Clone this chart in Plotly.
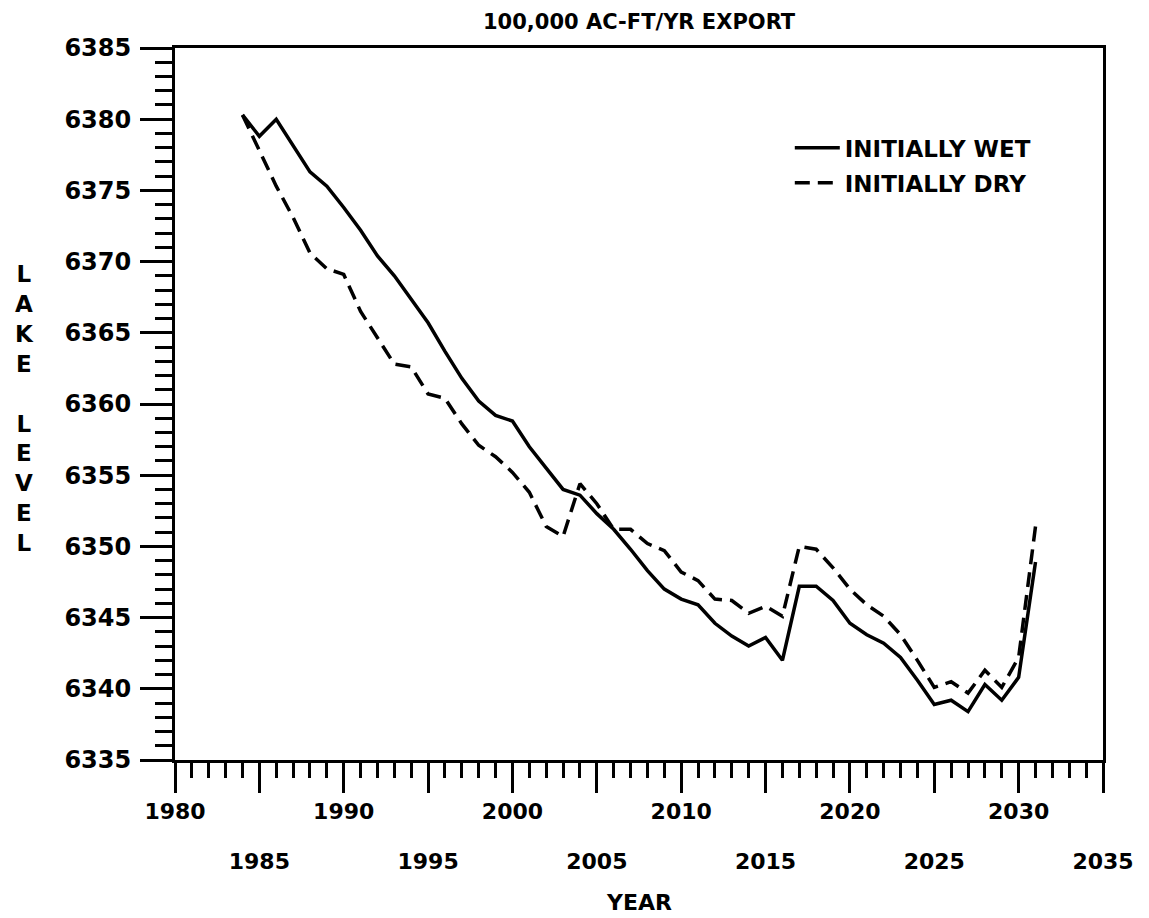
import plotly.graph_objects as go

# ---- data ----
years = list(range(1984, 2032))
wet = [6380.3, 6378.8, 6380.0, 6378.1, 6376.3, 6375.3, 6373.8, 6372.2, 6370.4, 6369.0,
       6367.4, 6365.7, 6363.7, 6361.8, 6360.2, 6359.2, 6358.8, 6357.0, 6355.5, 6354.0,
       6353.6, 6352.3, 6351.2, 6349.8, 6348.3, 6347.0, 6346.3, 6345.9, 6344.6, 6343.7,
       6343.0, 6343.6, 6342.0, 6347.2, 6347.2, 6346.2, 6344.6, 6343.8, 6343.2, 6342.2,
       6340.6, 6338.9, 6339.2, 6338.4, 6340.3, 6339.2, 6340.8, 6348.9]
dry = [6380.3, 6377.8, 6375.3, 6373.1, 6370.6, 6369.5, 6369.1, 6366.5, 6364.6, 6362.8,
       6362.6, 6360.7, 6360.4, 6358.6, 6357.1, 6356.3, 6355.2, 6353.8, 6351.4, 6350.7,
       6354.4, 6353.0, 6351.2, 6351.2, 6350.2, 6349.7, 6348.2, 6347.6, 6346.3, 6346.2,
       6345.3, 6345.8, 6345.1, 6350.0, 6349.8, 6348.5, 6347.0, 6345.9, 6345.1, 6343.8,
       6342.0, 6340.1, 6340.5, 6339.7, 6341.3, 6340.1, 6342.2, 6351.4]
series_names = ["INITIALLY WET", "INITIALLY DRY"]

x_major = [1980, 1985, 1990, 1995, 2000, 2005, 2010, 2015, 2020, 2025, 2030, 2035]
x_row1 = ["1980", "", "1990", "", "2000", "", "2010", "", "2020", "", "2030", ""]
x_row2_vals = [1985, 1995, 2005, 2015, 2025, 2035]
x_row2_text = ["1985", "1995", "2005", "2015", "2025", "2035"]
y_ticks = [6335, 6340, 6345, 6350, 6355, 6360, 6365, 6370, 6375, 6380, 6385]

title_text = "100,000 AC-FT/YR EXPORT"
x_title = "YEAR"
y_title = "LAKE LEVEL"

FONT = "DejaVu Sans"
INK = "#000000"
PLOT_H = 712

fig = go.Figure()
fig.add_trace(go.Scatter(x=years, y=wet, mode="lines", name=series_names[0],
                         line=dict(color=INK, width=3.5), legendgroup="a"))
fig.add_trace(go.Scatter(x=years, y=dry, mode="lines", name=series_names[1],
                         line=dict(color=INK, width=3.5, dash="15px,8px"), legendgroup="b"))
# invisible carrier so the second (staggered-label) x axis is drawn
fig.add_trace(go.Scatter(x=x_row2_vals, y=[None] * len(x_row2_vals), xaxis="x2",
                         mode="lines", showlegend=False, hoverinfo="skip"))

axis_common = dict(showgrid=False, zeroline=False, linecolor=INK, linewidth=3,
                   tickcolor=INK, tickwidth=3, mirror=True, showline=True)

fig.update_layout(
    width=1141, height=910,
    margin=dict(l=167, r=46, t=40, b=158),
    paper_bgcolor="white", plot_bgcolor="white",
    font=dict(family=FONT, color=INK, weight="bold"),
    showlegend=True,
    legend=dict(x=0.6625, y=0.89, xanchor="left", yanchor="top",
                bgcolor="rgba(0,0,0,0)", borderwidth=0,
                font=dict(size=23, family=FONT, color=INK, weight="bold"),
                traceorder="grouped", tracegroupgap=2, itemwidth=45),
    xaxis=dict(range=[1980, 2035], tickvals=x_major, ticktext=x_row1,
               ticks="outside", ticklen=30, ticklabelstandoff=0,
               tickfont=dict(size=22, family=FONT, color=INK, weight="bold"),
               minor=dict(dtick=1, ticks="outside", ticklen=15, tickwidth=3, tickcolor=INK),
               **axis_common),
    xaxis2=dict(range=[1980, 2035], overlaying="x", anchor="y", side="bottom",
                tickvals=x_row2_vals, ticktext=x_row2_text, ticks="",
                showline=False, showgrid=False, zeroline=False, ticklabelstandoff=86,
                tickfont=dict(size=22, family=FONT, color=INK, weight="bold")),
    yaxis=dict(range=[6335, 6385], tickvals=y_ticks,
               ticks="outside", ticklen=32, ticklabelstandoff=4,
               tickfont=dict(size=24, family=FONT, color=INK, weight="bold"),
               minor=dict(dtick=1, ticks="outside", ticklen=17, tickwidth=3, tickcolor=INK),
               **axis_common),
)

fig.add_annotation(text=title_text, xref="paper", yref="paper", x=0.5, y=1 + 26 / PLOT_H,
                   xanchor="center", yanchor="middle", showarrow=False,
                   font=dict(size=21, family=FONT, color=INK, weight="bold"))
fig.add_annotation(text=x_title, xref="paper", yref="paper", x=0.5, y=-143 / PLOT_H,
                   xanchor="center", yanchor="middle", showarrow=False,
                   font=dict(size=22, family=FONT, color=INK, weight="bold"))
fig.add_annotation(text="<br>".join(list(y_title)), xref="paper", yref="paper",
                   x=-151 / 928, y=0.494, xanchor="center", yanchor="middle",
                   showarrow=False, align="center",
                   font=dict(size=23, family=FONT, color=INK, weight="bold"))

fig.write_html("out.html")
